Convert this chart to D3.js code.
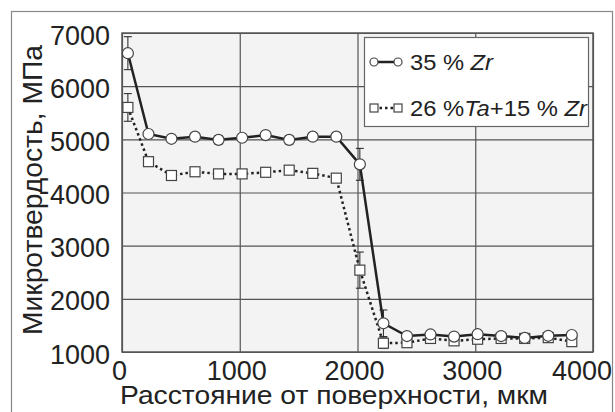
<!DOCTYPE html>
<html>
<head>
<meta charset="utf-8">
<script src="https://cdn.jsdelivr.net/npm/d3@7"></script>
<style>
  body { margin: 0; background: #fff; }
  text { font-family: "Liberation Sans", Arial, sans-serif; fill: #222; }
</style>
</head>
<body>
<div class="chart"></div>
<script>
var svgWidth = 615;
var svgHeight = 412;

var margin = { top: 33, right: 22, bottom: 60, left: 122 };
var width = 593 - margin.left;
var height = 352 - margin.top;

// data
var depth = [50, 225, 420, 620, 820, 1020, 1220, 1420, 1620, 1820, 2020, 2220, 2420, 2620, 2820, 3020, 3220, 3420, 3620, 3820];
var zr35 = [6620, 5100, 5010, 5050, 4990, 5030, 5080, 4990, 5050, 5050, 4530, 1540, 1300, 1330, 1290, 1335, 1300, 1265, 1305, 1320];
var zr35Err = [310, 0, 50, 40, 80, 30, 40, 80, 40, 40, 300, 250, 40, 60, 40, 60, 40, 30, 60, 60];
var ta26zr15 = [5600, 4580, 4320, 4390, 4350, 4350, 4380, 4420, 4360, 4270, 2540, 1165, 1175, 1255, 1210, 1240, 1255, 1255, 1270, 1195];
var ta26Err = [260, 40, 50, 50, 60, 50, 40, 50, 40, 40, 340, 100, 40, 40, 40, 50, 40, 30, 40, 40];
var xTicks = [0, 1000, 2000, 3000, 4000];
var yTicks = [1000, 2000, 3000, 4000, 5000, 6000, 7000];

var svg = d3.select(".chart")
    .append("svg")
    .attr("width", svgWidth)
    .attr("height", svgHeight);

// outer frame
svg.append("rect")
    .attr("x", 11.5).attr("y", 11.5)
    .attr("width", 601).attr("height", 410)
    .attr("fill", "none")
    .attr("stroke", "#888")
    .attr("stroke-width", 1.2);

var chartGroup = svg.append("g")
    .attr("transform", `translate(${margin.left}, ${margin.top})`);

var x = d3.scaleLinear().domain([0, 4000]).range([0, width]);
var y = d3.scaleLinear().domain([1000, 7000]).range([height, 0]);

chartGroup.append("rect")
    .attr("width", width).attr("height", height)
    .attr("fill", "#f3f3f3");

// grid via axes
var xGrid = chartGroup.append("g")
    .attr("transform", `translate(0, ${height})`)
    .call(d3.axisBottom(x).tickValues(xTicks).tickSize(-height).tickFormat(""));
var yGrid = chartGroup.append("g")
    .call(d3.axisLeft(y).tickValues(yTicks).tickSize(-width).tickFormat(""));
[xGrid, yGrid].forEach(function(g) {
    g.select(".domain").remove();
    g.selectAll("line").attr("stroke", "#555").attr("stroke-width", 1.2);
});

chartGroup.append("rect")
    .attr("width", width).attr("height", height)
    .attr("fill", "none")
    .attr("stroke", "#555")
    .attr("stroke-width", 1.5);

// tick labels
chartGroup.selectAll(".ylab")
    .data(yTicks)
    .enter().append("text")
    .attr("x", -12)
    .attr("y", d => y(d) + 11.5)
    .attr("text-anchor", "end")
    .attr("textLength", 60)
    .attr("lengthAdjust", "spacingAndGlyphs")
    .style("font-size", "27px")
    .text(d => d);

chartGroup.selectAll(".xlab")
    .data(xTicks)
    .enter().append("text")
    .attr("x", d => d === 0 ? x(d) - 2.5 : (d === 4000 ? width + 19 : x(d) - 3))
    .attr("y", height + 28)
    .attr("text-anchor", d => d === 4000 ? "end" : "middle")
    .attr("textLength", d => d === 0 ? 15 : 60)
    .attr("lengthAdjust", "spacingAndGlyphs")
    .style("font-size", "27px")
    .text(d => d);

// axis titles
svg.append("text")
    .attr("x", 120).attr("y", 404)
    .attr("textLength", 428)
    .attr("lengthAdjust", "spacingAndGlyphs")
    .style("font-size", "25px")
    .text("Расстояние от поверхности, мкм");

svg.append("text")
    .attr("transform", "translate(42, 190) rotate(-90)")
    .attr("text-anchor", "middle")
    .attr("textLength", 290)
    .attr("lengthAdjust", "spacingAndGlyphs")
    .style("font-size", "28px")
    .text("Микротвердость, МПа");

function drawSeries(vals, errs, dash, shape) {
    var pts = depth.map((d, i) => ({ x: d, y: vals[i], e: errs[i] }));
    var line = d3.line().x(d => x(d.x)).y(d => y(d.y));

    // error bars
    var eb = chartGroup.append("g").attr("stroke", "#222").attr("stroke-width", 1);
    pts.filter(d => d.e > 0).forEach(function(d) {
        var cx = x(d.x);
        eb.append("line").attr("x1", cx).attr("x2", cx).attr("y1", y(d.y + d.e)).attr("y2", y(d.y - d.e));
        eb.append("line").attr("x1", cx - 4).attr("x2", cx + 4).attr("y1", y(d.y + d.e)).attr("y2", y(d.y + d.e));
        eb.append("line").attr("x1", cx - 4).attr("x2", cx + 4).attr("y1", y(d.y - d.e)).attr("y2", y(d.y - d.e));
    });

    chartGroup.append("path")
        .datum(pts)
        .attr("d", line)
        .attr("fill", "none")
        .attr("stroke", "#222")
        .attr("stroke-width", 2.5)
        .attr("stroke-dasharray", dash);

    if (shape === "circle") {
        chartGroup.selectAll(null).data(pts).enter().append("circle")
            .attr("cx", d => x(d.x)).attr("cy", d => y(d.y)).attr("r", 5.5)
            .attr("fill", "#fff").attr("stroke", "#444").attr("stroke-width", 1.2);
    } else {
        chartGroup.selectAll(null).data(pts).enter().append("rect")
            .attr("x", d => x(d.x) - 5).attr("y", d => y(d.y) - 5)
            .attr("width", 10).attr("height", 10)
            .attr("fill", "#fff").attr("stroke", "#444").attr("stroke-width", 1.2);
    }
}

drawSeries(ta26zr15, ta26Err, "2.5,3", "square");
drawSeries(zr35, zr35Err, null, "circle");

// legend
var legend = svg.append("g");
legend.append("rect")
    .attr("x", 364.5).attr("y", 37.5)
    .attr("width", 224).attr("height", 89)
    .attr("fill", "#fff")
    .attr("stroke", "#666")
    .attr("stroke-width", 1.2);

legend.append("line").attr("x1", 374).attr("x2", 398).attr("y1", 62).attr("y2", 62)
    .attr("stroke", "#222").attr("stroke-width", 2.5);
[374, 398].forEach(function(cx) {
    legend.append("circle").attr("cx", cx).attr("cy", 62).attr("r", 4)
        .attr("fill", "#fff").attr("stroke", "#444").attr("stroke-width", 1.2);
});
legend.append("line").attr("x1", 374).attr("x2", 398).attr("y1", 108).attr("y2", 108)
    .attr("stroke", "#222").attr("stroke-width", 2.5).attr("stroke-dasharray", "2.5,3");
[374, 398].forEach(function(cx) {
    legend.append("rect").attr("x", cx - 4).attr("y", 104).attr("width", 8).attr("height", 8)
        .attr("fill", "#fff").attr("stroke", "#444").attr("stroke-width", 1.2);
});

var t1 = legend.append("text").attr("x", 410).attr("y", 70)
    .attr("textLength", 83).attr("lengthAdjust", "spacingAndGlyphs")
    .style("font-size", "22px");
t1.append("tspan").text("35 % ");
t1.append("tspan").style("font-style", "italic").text("Zr");

var t2 = legend.append("text").attr("x", 410).attr("y", 116)
    .attr("textLength", 177).attr("lengthAdjust", "spacingAndGlyphs")
    .style("font-size", "22px");
t2.append("tspan").text("26 %");
t2.append("tspan").style("font-style", "italic").text("Ta");
t2.append("tspan").text("+15 % ");
t2.append("tspan").style("font-style", "italic").text("Zr");
</script>
</body>
</html>
